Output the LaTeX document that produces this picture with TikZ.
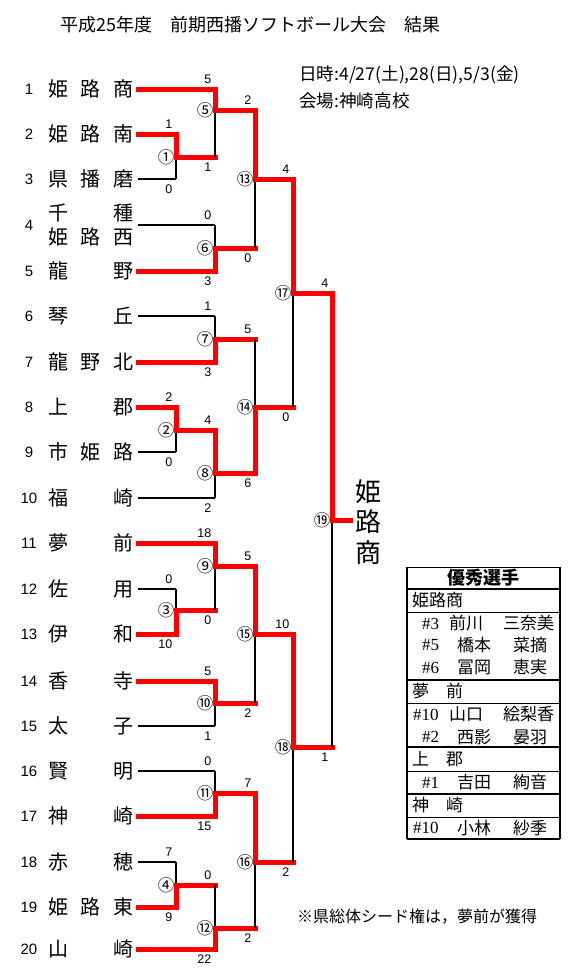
\documentclass[tikz,border=0pt]{standalone}
\usepackage{fontspec}
\setmainfont{Noto Sans CJK JP}
\newfontfamily\lat{Liberation Sans}
\newfontfamily\latserif{Liberation Serif}
\tikzset{
  win/.style={draw=red, line width=5pt, line cap=rect, line join=miter},
  lose/.style={draw=black, line width=1.4pt},
  score/.style={font=\lat\fontsize{12.5}{12.5}\selectfont, inner sep=0pt, anchor=east},
  circ/.style={font=\fontsize{16.5}{16.5}\selectfont, inner sep=0pt},
  tname/.style={font=\fontsize{20}{20}\selectfont, inner sep=0pt, anchor=west},
  tnum/.style={font=\lat\fontsize{15}{15}\selectfont, inner sep=0pt},
  cell/.style={font=\fontsize{17}{17}\selectfont, inner sep=0pt, anchor=west},
  pnum/.style={font=\latserif\fontsize{17}{17}\selectfont, inner sep=0pt, anchor=west},
  thick line/.style={line width=1.7pt},
  thin line/.style={line width=1pt},
}
\newcommand\mymatch[9]{%
  \pgfmathsetmacro\mysgn{(#4<#5) ? -10 : 10}%
  \coordinate (#1v) at (#3,#6);
  \coordinate (#1o) at (#7,#6);
  \draw[lose] (#3,#5) -- (#1v);
  \draw[win] (#3,#4) -- (#1v) -- (#1o);
  \node[circ] (#1c) at ([xshift=-10pt]#1v) {#2};
  \node[score] (#1w) at ({#3-3.5},{#4+(\mysgn)}) {#8};
  \node[score] (#1l) at ({#3-3.5},{#5-(\mysgn)}) {#9};
}
\newcommand\myteam[3]{%
  \node[tnum] (n#1) at (29,#2) {#1};
  \coordinate (s#1) at (138,#2);
  \node[tname] (t#1) at (48,#2) {\makebox[85pt][l]{#3}};
}
\begin{document}
\begin{tikzpicture}[x=1pt,y=-1pt]
\useasboundingbox (0,0) rectangle (576,975);
\fill[white] (0,0) rectangle (576,975);

% title and info
\node[font=\fontsize{18}{18}\selectfont, inner sep=0pt, anchor=west] (title) at (60,25) {平成25年度　前期西播ソフトボール大会　結果};
\node[font=\fontsize{17.6}{17.6}\selectfont, inner sep=0pt, anchor=west] (date) at (299,75) {日時:4/27(土),28(日),5/3(金)};
\node[font=\fontsize{17.6}{17.6}\selectfont, inner sep=0pt, anchor=west] (venue) at (299,101) {会場:神崎高校};

% column x positions
\coordinate (X1) at (176,0);
\coordinate (X2) at (215,0);

% teams
\myteam{1}{89}{姫\hfill 路\hfill 商}
\myteam{2}{134}{姫\hfill 路\hfill 南}
\myteam{3}{179}{県\hfill 播\hfill 磨}
\node[tnum] (n4) at (29,225) {4};
\coordinate (s4) at (138,225);
\node[tname] (t4a) at (48,213) {\makebox[85pt][l]{千\hfill 種}};
\node[tname] (t4b) at (48,237) {\makebox[85pt][l]{姫\hfill 路\hfill 西}};
\myteam{5}{271}{龍\hfill 野}
\myteam{6}{316}{琴\hfill 丘}
\myteam{7}{362}{龍\hfill 野\hfill 北}
\myteam{8}{407}{上\hfill 郡}
\myteam{9}{452}{市\hfill 姫\hfill 路}
\myteam{10}{498}{福\hfill 崎}
\myteam{11}{543}{夢\hfill 前}
\myteam{12}{589}{佐\hfill 用}
\myteam{13}{634}{伊\hfill 和}
\myteam{14}{681}{香\hfill 寺}
\myteam{15}{726}{太\hfill 子}
\myteam{16}{771}{賢\hfill 明}
\myteam{17}{816}{神\hfill 崎}
\myteam{18}{862}{赤\hfill 穂}
\myteam{19}{907}{姫\hfill 路\hfill 東}
\myteam{20}{949}{山\hfill 崎}

% losing first-round lines
\draw[lose] (s3) -- (s3 -| X1);
\draw[lose] (s4) -- (s4 -| X2);
\draw[lose] (s6) -- (s6 -| X2);
\draw[lose] (s9) -- (s9 -| X1);
\draw[lose] (s10) -- (s10 -| X2);
\draw[lose] (s12) -- (s12 -| X1);
\draw[lose] (s15) -- (s15 -| X2);
\draw[lose] (s16) -- (s16 -| X2);
\draw[lose] (s18) -- (s18 -| X1);
% winning first-round lines
\draw[win] (s1) -- (s1 -| X2);
\draw[win] (s2) -- (s2 -| X1);
\draw[win] (s5) -- (s5 -| X2);
\draw[win] (s7) -- (s7 -| X2);
\draw[win] (s8) -- (s8 -| X1);
\draw[win] (s11) -- (s11 -| X2);
\draw[win] (s13) -- (s13 -| X1);
\draw[win] (s14) -- (s14 -| X2);
\draw[win] (s17) -- (s17 -| X2);
\draw[win] (s19) -- (s19 -| X1);
\draw[win] (s20) -- (s20 -| X2);

% matches: name, label, x, y winner, y loser, y out, x next, winner score, loser score
\mymatch{M1}{①}{176}{134}{179}{157}{215}{1}{0}
\mymatch{M2}{②}{176}{407}{452}{430}{215}{2}{0}
\mymatch{M3}{③}{176}{634}{589}{610}{215}{10}{0}
\mymatch{M4}{④}{176}{907}{862}{885}{215}{9}{7}
\mymatch{M5}{⑤}{215}{89}{157}{110}{255}{5}{1}
\mymatch{M6}{⑥}{215}{271}{225}{248}{255}{3}{0}
\mymatch{M7}{⑦}{215}{362}{316}{339}{255}{3}{1}
\mymatch{M8}{⑧}{215}{430}{498}{473}{255}{4}{2}
\mymatch{M9}{⑨}{215}{543}{610}{566}{255}{18}{0}
\mymatch{M10}{⑩}{215}{681}{726}{703}{255}{5}{1}
\mymatch{M11}{⑪}{215}{816}{771}{793}{255}{15}{0}
\mymatch{M12}{⑫}{215}{949}{885}{928}{255}{22}{0}
\mymatch{M13}{⑬}{255}{110}{248}{179}{293}{2}{0}
\mymatch{M14}{⑭}{255}{473}{339}{407}{293}{6}{5}
\mymatch{M15}{⑮}{255}{566}{703}{634}{293}{5}{2}
\mymatch{M16}{⑯}{255}{793}{928}{862}{293}{7}{2}
\mymatch{M17}{⑰}{293}{179}{407}{293}{332}{4}{0}
\mymatch{M18}{⑱}{293}{634}{862}{747}{332}{10}{2}
\mymatch{M19}{⑲}{332}{293}{747}{520}{350}{4}{1}

% champion
\node[font=\fontsize{26}{30.5}\selectfont, inner sep=0pt, align=center] (champ) at (368,522) {姫\\路\\商};

% table of outstanding players
\draw[thin line] (407,567) -- (560,567);
\draw[thick line] (407,567) -- (407,839);
\draw[thick line] (560,567) -- (560,839);
\foreach \yy in {589,680,747,794,839} \draw[thick line] (407,\yy) -- (560,\yy);
\foreach \yy in {612,703,771,817} \draw[thin line] (407,\yy) -- (560,\yy);
\node[font=\bfseries\fontsize{18}{18}\selectfont, inner sep=0pt] (hdr) at (483.5,578) {優秀選手};
\node[cell] (g1) at (412,600.5) {姫路商};
\node[pnum] (p1n) at (422,623.5) {\#3};
\node[cell] (p1a) at (449,623.5) {前川};
\node[cell] (p1b) at (503,623.5) {三奈美};
\node[pnum] (p2n) at (422,645.5) {\#5};
\node[cell] (p2a) at (457,645.5) {橋本};
\node[cell] (p2b) at (513,645.5) {菜摘};
\node[pnum] (p3n) at (422,667.5) {\#6};
\node[cell] (p3a) at (457,667.5) {冨岡};
\node[cell] (p3b) at (513,667.5) {恵実};
\node[cell] (g2) at (412,691.5) {夢　前};
\node[pnum] (p4n) at (413,714.5) {\#10};
\node[cell] (p4a) at (449,714.5) {山口};
\node[cell] (p4b) at (503,714.5) {絵梨香};
\node[pnum] (p5n) at (422,737) {\#2};
\node[cell] (p5a) at (457,737) {西影};
\node[cell] (p5b) at (513,737) {晏羽};
\node[cell] (g3) at (412,759) {上　郡};
\node[pnum] (p6n) at (422,782.5) {\#1};
\node[cell] (p6a) at (457,782.5) {吉田};
\node[cell] (p6b) at (513,782.5) {絢音};
\node[cell] (g4) at (412,805.5) {神　崎};
\node[pnum] (p7n) at (413,828) {\#10};
\node[cell] (p7a) at (457,828) {小林};
\node[cell] (p7b) at (513,828) {紗季};

% note
\node[font=\fontsize{16}{16}\selectfont, inner sep=0pt, anchor=west] (note) at (297,917) {※県総体シード権は，夢前が獲得};
\end{tikzpicture}
\end{document}
